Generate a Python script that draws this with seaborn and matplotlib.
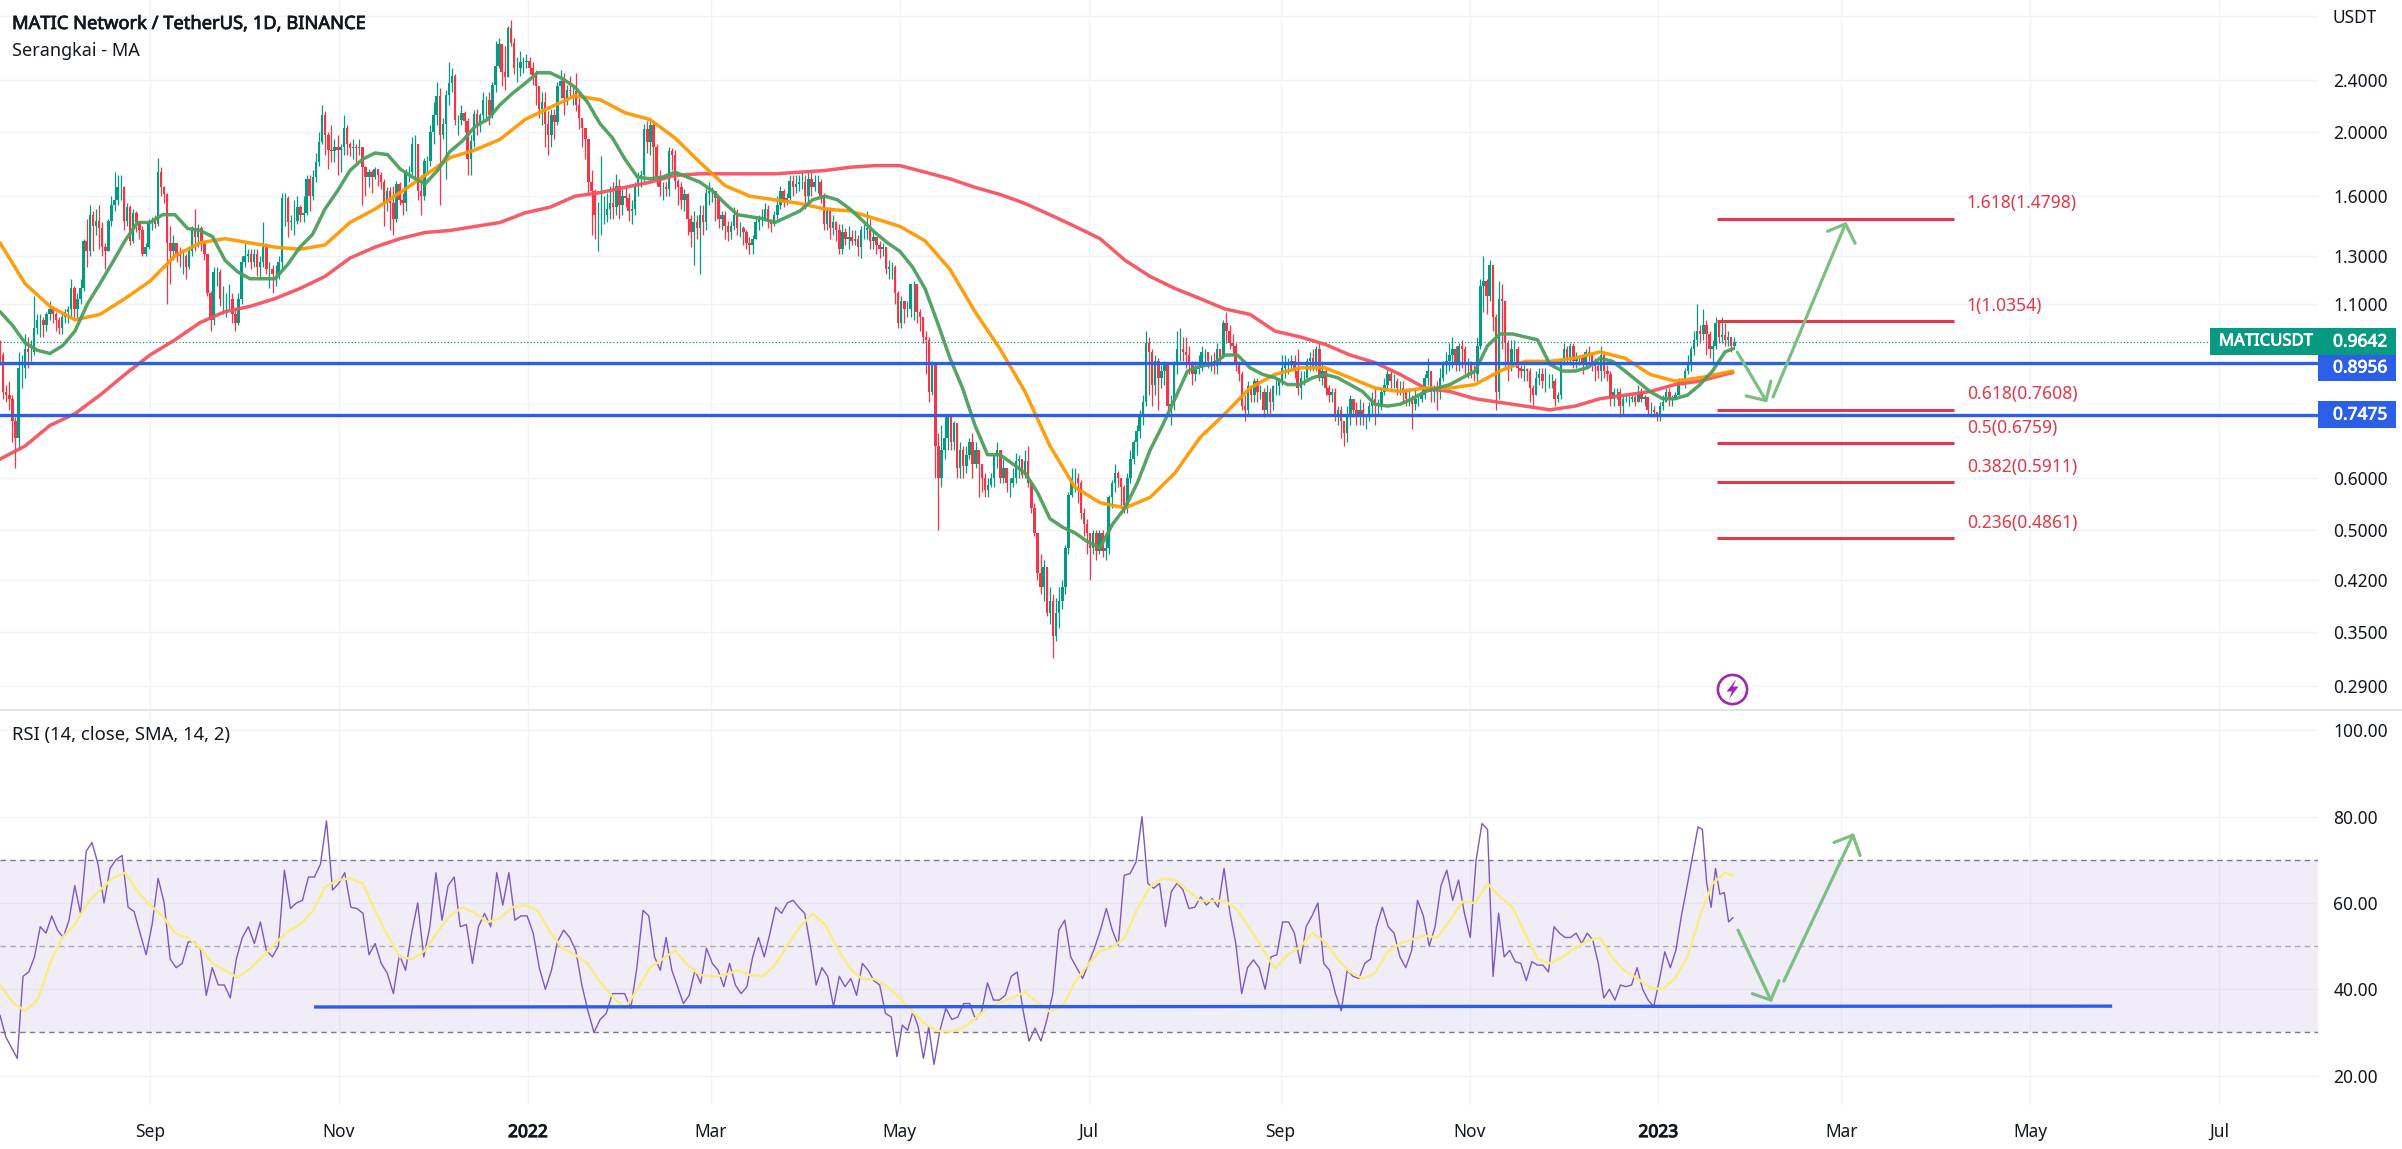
import pandas as pd
import numpy as np
import seaborn as sns
import matplotlib.pyplot as plt
import matplotlib.patheffects as pe
from matplotlib.patches import Rectangle, Polygon
from matplotlib.ticker import NullLocator

W, H = 2402, 1149
AXIS_X = 2318
PANEL_Y = 709.5
BOTTOM_Y = 1105

# daily candles, oldest first
closes = [
    .92, .81, .80, .79, .73, .69, .88, .88, .94,
    .93, .93, 1.01, 1.04, 1.04, 1.02, 1.06, 1.08, 1.06, 1.04,
    1.01, 1.05, 1.07, 1.08, 1.16, 1.08, 1.12, 1.16, 1.37, 1.32,
    1.5, 1.44, 1.47, 1.43, 1.34, 1.32, 1.47, 1.55, 1.58, 1.65,
    1.65, 1.47, 1.54, 1.37, 1.51, 1.46, 1.42, 1.31, 1.34, 1.46,
    1.47, 1.45, 1.74, 1.65, 1.61, 1.36, 1.32, 1.36, 1.31, 1.30,
    1.30, 1.25, 1.32, 1.43, 1.39, 1.43, 1.37, 1.31, 1.14, 1.04,
    1.23, 1.23, 1.12, 1.12, 1.12, 1.12, 1.06, 1.03, 1.12, 1.27,
    1.3, 1.31, 1.27, 1.31, 1.25, 1.27, 1.34, 1.24, 1.24, 1.22,
    1.22, 1.27, 1.59, 1.59, 1.46, 1.47, 1.47, 1.54, 1.5, 1.51,
    1.7, 1.6, 1.71, 1.8, 1.93, 2.12, 1.98, 1.88, 1.87, 1.9,
    1.88, 1.9, 2.03, 1.92, 1.89, 1.9, 1.89, 1.9, 1.77, 1.71,
    1.74, 1.71, 1.76, 1.72, 1.68, 1.56, 1.63, 1.56, 1.48, 1.67,
    1.58, 1.56, 1.74, 1.74, 1.92, 1.92, 1.63, 1.6, 1.81, 1.81,
    2.0, 2.12, 2.27, 1.98, 2.06, 2.28, 2.37, 2.43, 2.09, 2.09,
    2.14, 2.08, 1.82, 1.94, 2.13, 2.05, 2.12, 2.24, 2.24, 2.12,
    2.36, 2.52, 2.72, 2.47, 2.42, 2.88, 2.73, 2.5, 2.5, 2.55,
    2.55, 2.56, 2.5, 2.44, 2.35, 2.17, 2.22, 2.06, 1.98, 2.12,
    2.07, 2.35, 2.39, 2.25, 2.32, 2.31, 2.31, 2.2, 2.1, 2.03,
    1.95, 1.68, 1.63, 1.5, 1.5, 1.5, 1.5, 1.53, 1.56, 1.54, 1.66,
    1.55, 1.6, 1.59, 1.52, 1.53, 1.66, 1.7, 1.72, 2.02, 1.93,
    2.05, 1.9, 1.71, 1.65, 1.65, 1.64, 1.87, 1.85, 1.69, 1.65,
    1.58, 1.61, 1.48, 1.41, 1.46, 1.43, 1.5,
    1.46, 1.62, 1.63, 1.63, 1.59, 1.48, 1.5, 1.44, 1.41, 1.44,
    1.5, 1.43, 1.43, 1.41, 1.36, 1.35, 1.38, 1.46, 1.48, 1.48,
    1.53, 1.46, 1.45, 1.5, 1.55, 1.63, 1.57, 1.59, 1.69, 1.65, 1.67,
    1.68, 1.68, 1.6, 1.7, 1.65, 1.68, 1.68, 1.6, 1.45, 1.52,
    1.43, 1.46, 1.42, 1.33, 1.41, 1.38, 1.39, 1.37, 1.38, 1.34,
    1.42, 1.42, 1.43, 1.37, 1.39, 1.35, 1.33, 1.34, 1.24, 1.25,
    1.25, 1.14, 1.03, 1.11, 1.08, 1.08, 1.18, 1.18, 1.07, 1.05,
    .98, .97, .81, .89, .67, .6, .66, .69, .745, .68,
    .725, .62, .66, .625, .65, .68, .63, .66, .63, .6,
    .575, .585, .6, .65, .66, .6, .62, .59, .59, .6,
    .635, .64, .605, .635, .59, .54, .495, .43, .41, .44,
    .375, .39, .345, .375, .39, .41, .47, .565, .6, .6,
    .59, .53, .51, .495, .47, .495, .465, .495, .465, .47,
    .56, .59, .61, .60, .58, .545, .6, .64, .68, .705,
    .745, .78, .96, .93, .83, .9, .85, .87, .89, .77,
    .775, .89, .94, .94, .93, .92, .89, .86, .875, .88,
    .93, .93, .9, .9, .885, .94, .915, 1.03, 1.0, .96,
    .95, .89, .86, .77, .76, .825, .8, .84, .81, .81,
    .76, .81, .78, .825, .825, .84, .88, .89, .89, .9,
    .87, .82, .85, .85, .9, .91, .88, .94, .85, .87,
    .82, .8, .81, .75, .76, .73, .7, .74, .79, .76,
    .74, .76, .74, .74, .77, .79, .77, .77, .81, .83,
    .86, .84, .84, .82, .82, .81, .79, .79, .775, .79,
    .79, .8, .85, .87, .81, .82, .81, .85, .896, .9,
    .92, .94, .89, .95, .94, .89, .89, .87, .86, .95,
    1.17, 1.19, 1.13, 1.26, 1.05, .81, 1.12, 1.11, .96, .89,
    .94, .94, .88, .87, .875, .87, .82, .8, .85, .86,
    .84, .84, .84, .84, .79, .8, .9, .94, .91, .95,
    .9, .91, .91, .89, .93, .92, .89, .885, .87, .92,
    .87, .86, .79, .81, .81, .77, .79, .79, .79, .795,
    .78, .81, .79, .795, .76, .76, .755, .745, .77, .78,
    .81, .79, .79, .8, .84, .84, .87, .89, .94, .97,
    1.0, .99, 1.02, .99, .94, .95, 1.03, .98, .985, .97,
    .98, .95, .9642,
]
highs = [
    .97, .93, .83, .84, .80, .74, .93, .92, .99,
    .98, .97, 1.13, 1.06, 1.06, 1.05, 1.07, 1.11, 1.09, 1.07,
    1.05, 1.07, 1.08, 1.09, 1.2, 1.17, 1.14, 1.2, 1.38, 1.48,
    1.55, 1.52, 1.53, 1.55, 1.46, 1.36, 1.48, 1.6, 1.74, 1.72,
    1.72, 1.66, 1.56, 1.55, 1.53, 1.52, 1.47, 1.44, 1.36, 1.48,
    1.49, 1.5, 1.83, 1.77, 1.66, 1.62, 1.44, 1.4, 1.35, 1.34,
    1.33, 1.31, 1.34, 1.44, 1.53, 1.45, 1.44, 1.34, 1.31, 1.15,
    1.25, 1.25, 1.24, 1.17, 1.14, 1.18, 1.14, 1.08, 1.14, 1.3,
    1.36, 1.33, 1.33, 1.33, 1.33, 1.3, 1.46, 1.36, 1.27, 1.26,
    1.26, 1.3, 1.62, 1.62, 1.6, 1.5, 1.58, 1.6, 1.55, 1.6,
    1.72, 1.72, 1.75, 1.86, 2.0, 2.2, 2.15, 2.0, 2.05, 1.95,
    1.98, 1.92, 2.12, 2.05, 1.93, 1.95, 1.92, 1.95, 1.9, 1.78,
    1.76, 1.75, 1.77, 1.76, 1.74, 1.7, 1.65, 1.65, 1.66, 1.69,
    1.68, 1.62, 1.76, 1.78, 1.97, 1.98, 1.92, 1.72, 1.83, 1.84,
    2.05, 2.22, 2.38, 2.33, 2.1, 2.32, 2.55, 2.5, 2.45, 2.12,
    2.2, 2.15, 2.1, 1.98, 2.16, 2.17, 2.14, 2.3, 2.27, 2.3,
    2.38, 2.75, 2.78, 2.72, 2.7, 2.9, 2.96, 2.78, 2.6, 2.65,
    2.6, 2.63, 2.6, 2.55, 2.48, 2.35, 2.3, 2.3, 2.15, 2.17,
    2.17, 2.38, 2.48, 2.46, 2.36, 2.43, 2.35, 2.46, 2.25, 2.1,
    2.03, 1.95, 1.75, 1.64, 1.57, 1.84, 1.6, 1.62, 1.66, 1.68, 1.73,
    1.7, 1.64, 1.66, 1.62, 1.58, 1.68, 1.74, 1.75, 2.06, 2.08,
    2.08, 2.07, 1.92, 1.75, 1.68, 1.68, 1.9, 1.89, 1.88, 1.7,
    1.68, 1.64, 1.62, 1.5, 1.52, 1.5, 1.55,
    1.55, 1.65, 1.68, 1.65, 1.63, 1.6, 1.52, 1.52, 1.47, 1.47,
    1.54, 1.53, 1.46, 1.44, 1.42, 1.39, 1.4, 1.49, 1.5, 1.53,
    1.56, 1.55, 1.48, 1.52, 1.6, 1.66, 1.64, 1.62, 1.72, 1.72, 1.72,
    1.72, 1.74, 1.72, 1.74, 1.74, 1.72, 1.72, 1.7, 1.62, 1.54,
    1.54, 1.5, 1.47, 1.45, 1.45, 1.43, 1.44, 1.42, 1.42, 1.4,
    1.44, 1.45, 1.52, 1.48, 1.42, 1.39, 1.37, 1.36, 1.34, 1.28,
    1.27, 1.26, 1.15, 1.13, 1.11, 1.11, 1.18, 1.19, 1.18, 1.08,
    1.05, 1.0, .98, .9, .89, .7, .72, .74, .75, .75,
    .73, .72, .68, .67, .67, .69, .7, .68, .66, .63,
    .61, .6, .61, .65, .68, .66, .64, .62, .6, .62,
    .655, .65, .64, .66, .67, .59, .55, .49, .46, .45,
    .44, .41, .4, .395, .41, .42, .475, .57, .62, .62,
    .61, .595, .54, .52, .495, .5, .5, .5, .5, .49,
    .565, .595, .63, .615, .6, .585, .61, .66, .685, .72,
    .76, .8, 1.0, .98, .94, .92, .91, .89, .9, .89,
    .8, .9, 1.0, 1.01, .98, .98, .95, .9, .9, .92,
    .95, .94, .93, .92, .93, .96, .94, 1.04, 1.07, 1.02,
    .99, .96, .9, .87, .8, .84, .83, .85, .85, .83,
    .82, .83, .82, .83, .85, .85, .92, .92, .91, .92,
    .92, .94, .87, .87, .91, .93, .94, .95, .96, .9,
    .88, .83, .82, .82, .77, .77, .73, .77, .8, .79,
    .78, .79, .78, .75, .78, .81, .82, .79, .82, .85,
    .88, .87, .86, .85, .84, .84, .82, .82, .8, .82,
    .8, .83, .86, .91, .87, .83, .84, .88, .9, .93,
    .96, .98, .95, .96, .97, .95, .91, .9, .89, .98,
    1.2, 1.3, 1.2, 1.28, 1.26, 1.06, 1.19, 1.18, 1.09, .97,
    .97, .97, .95, .89, .89, .88, .88, .83, .87, .88,
    .88, .88, .86, .86, .85, .81, .91, .96, .95, .96,
    .96, .93, .92, .92, .94, .95, .93, .91, .9, .95,
    .93, .89, .87, .82, .82, .82, .8, .8, .8, .8,
    .8, .83, .82, .8, .79, .78, .77, .755, .78, .8,
    .82, .82, .8, .81, .85, .85, .88, .92, .95, 1.0,
    1.1, 1.02, 1.08, 1.04, 1.0, .97, 1.05, 1.04, 1.05, 1.03,
    1.0, .98, .98,
]
lows = [
    .89, .79, .78, .76, .68, .62, .66, .82, .85,
    .88, .9, .92, .99, .98, .98, 1.0, 1.04, 1.03, 1.0,
    .99, .99, 1.03, 1.03, 1.05, 1.05, 1.04, 1.1, 1.15, 1.25,
    1.3, 1.32, 1.4, 1.33, 1.3, 1.24, 1.32, 1.44, 1.52, 1.55,
    1.58, 1.42, 1.44, 1.35, 1.36, 1.41, 1.38, 1.3, 1.3, 1.33,
    1.42, 1.43, 1.44, 1.6, 1.56, 1.1, 1.18, 1.28, 1.27, 1.25,
    1.22, 1.2, 1.24, 1.3, 1.32, 1.34, 1.32, 1.28, 1.13, 1.0,
    1.02, 1.17, 1.09, 1.06, 1.05, 1.08, 1.03, 1.0, 1.02, 1.1,
    1.25, 1.27, 1.24, 1.25, 1.21, 1.2, 1.25, 1.22, 1.16, 1.14,
    1.17, 1.2, 1.24, 1.44, 1.39, 1.42, 1.4, 1.45, 1.46, 1.46,
    1.5, 1.52, 1.58, 1.68, 1.78, 1.92, 1.85, 1.76, 1.8, 1.8,
    1.72, 1.74, 1.85, 1.85, 1.84, 1.82, 1.8, 1.85, 1.55, 1.6,
    1.65, 1.62, 1.7, 1.66, 1.64, 1.44, 1.52, 1.42, 1.4, 1.46,
    1.55, 1.5, 1.52, 1.68, 1.72, 1.7, 1.58, 1.5, 1.58, 1.73,
    1.78, 1.92, 2.05, 1.55, 1.95, 1.7, 2.2, 2.3, 2.05, 1.98,
    2.05, 2.0, 1.72, 1.72, 1.9, 1.98, 2.0, 2.08, 2.1, 2.05,
    2.1, 2.3, 2.5, 2.35, 2.32, 2.42, 2.7, 2.45, 2.38, 2.43,
    2.46, 2.5, 2.45, 2.36, 2.2, 2.1, 2.05, 1.9, 1.85, 1.9,
    1.95, 2.05, 2.25, 2.12, 2.2, 2.25, 2.2, 2.15, 2.02, 1.9,
    1.82, 1.62, 1.4, 1.38, 1.32, 1.4, 1.45, 1.46, 1.48, 1.48, 1.5,
    1.48, 1.5, 1.54, 1.47, 1.45, 1.5, 1.6, 1.65, 1.68, 1.86,
    1.85, 1.7, 1.66, 1.6, 1.58, 1.6, 1.6, 1.75, 1.64, 1.55,
    1.53, 1.52, 1.4, 1.34, 1.26, 1.38, 1.22,
    1.4, 1.42, 1.55, 1.57, 1.47, 1.43, 1.42, 1.38, 1.37, 1.38,
    1.42, 1.4, 1.39, 1.35, 1.33, 1.31, 1.31, 1.38, 1.42, 1.44,
    1.47, 1.43, 1.41, 1.44, 1.48, 1.53, 1.54, 1.55, 1.58, 1.6, 1.62,
    1.63, 1.64, 1.53, 1.57, 1.6, 1.63, 1.62, 1.56, 1.42, 1.42,
    1.38, 1.4, 1.37, 1.31, 1.31, 1.35, 1.33, 1.35, 1.35, 1.3,
    1.29, 1.38, 1.38, 1.33, 1.33, 1.31, 1.29, 1.3, 1.22, 1.2,
    1.2, 1.1, 1.01, 1.01, 1.03, 1.05, 1.05, 1.04, 1.03, 1.0,
    .96, .86, .78, .8, .6, .5, .58, .64, .66, .66,
    .66, .6, .6, .6, .61, .64, .6, .62, .56, .57,
    .56, .56, .58, .58, .62, .59, .59, .57, .56, .58,
    .59, .6, .6, .6, .58, .53, .49, .42, .4, .39,
    .37, .36, .32, .34, .355, .38, .4, .46, .56, .57,
    .55, .52, .49, .46, .42, .46, .45, .46, .455, .45,
    .46, .54, .57, .58, .54, .53, .53, .59, .63, .65,
    .69, .72, .77, .8, .77, .8, .76, .82, .83, .76,
    .72, .76, .86, .9, .9, .88, .86, .83, .84, .86,
    .87, .89, .88, .87, .86, .86, .89, .91, .96, .94,
    .92, .87, .84, .76, .73, .75, .78, .78, .78, .79,
    .74, .75, .75, .76, .8, .8, .83, .85, .86, .87,
    .85, .8, .79, .83, .84, .87, .87, .87, .84, .83,
    .8, .78, .78, .73, .72, .69, .67, .68, .72, .74,
    .72, .72, .72, .71, .73, .75, .72, .75, .76, .8,
    .82, .82, .82, .8, .8, .78, .77, .77, .71, .76,
    .77, .78, .79, .83, .78, .78, .76, .79, .84, .86,
    .87, .88, .87, .87, .88, .86, .85, .85, .84, .84,
    .94, 1.07, 1.06, 1.11, 1.0, .76, .79, .94, .88, .84,
    .87, .9, .85, .85, .84, .84, .78, .77, .8, .83,
    .82, .81, .82, .82, .77, .78, .79, .89, .89, .89,
    .88, .88, .89, .86, .88, .9, .87, .84, .85, .84,
    .85, .84, .77, .77, .79, .74, .75, .78, .77, .78,
    .77, .78, .78, .77, .75, .74, .74, .73, .73, .76,
    .78, .77, .77, .79, .8, .83, .82, .86, .87, .92,
    .95, .96, .97, .92, .91, .89, .94, .96, .96, .95,
    .95, .93, .94,
]

# fast moving average and rsi average, one reading about every four days
ma_fast = [1.07, 1.02, .96, .935, .925, .95, 1.0, 1.1, 1.18, 1.27, 1.37, 1.46, 1.46, 1.5, 1.5, 1.43, 1.42, 1.39, 1.28, 1.23,
           1.2, 1.2, 1.2, 1.26, 1.34, 1.4, 1.53, 1.63, 1.75, 1.82, 1.86, 1.85, 1.76, 1.71, 1.67, 1.75, 1.87, 1.94, 2.04, 2.09,
           2.2, 2.29, 2.37, 2.46, 2.46, 2.41, 2.34, 2.22, 2.06, 1.96, 1.82, 1.71, 1.7, 1.71, 1.74, 1.71, 1.68, 1.63, 1.56, 1.5,
           1.49, 1.48, 1.46, 1.49, 1.52, 1.58, 1.6, 1.58, 1.53, 1.47, 1.41, 1.36, 1.32, 1.25, 1.16, 1.03, .91, .82, .72, .65,
           .65, .63, .61, .57, .52, .505, .495, .48, .47, .51, .54, .59, .66, .72, .79, .87, .885, .89, .92, .92,
           .88, .86, .85, .83, .83, .85, .86, .85, .83, .81, .775, .77, .775, .79, .81, .82, .83, .85, .87, .95,
           .99, .99, .98, .97, .89, .87, .87, .88, .91, .9, .87, .84, .81, .79, .79, .8, .83, .87, .93, .94]
rsi_avg = [41, 37, 35, 37.5, 46, 52, 55, 60, 63, 65.7, 67, 62.6, 59.5, 57, 53, 52, 49.7, 46, 44.4, 42.7,
           44.8, 47.5, 50.6, 53.3, 55, 58, 63.7, 65.3, 65.7, 64.5, 58.3, 52.5, 47.5, 47, 49, 53.3, 57, 59, 57.6, 55.6,
           56.4, 59, 59.5, 58.3, 53.3, 49.5, 48, 46, 41.7, 38.3, 35.6, 40, 45, 47, 49, 45.6, 43.3, 43, 43.3, 44.4,
           43.3, 43, 45.6, 50.2, 54.5, 57.5, 55, 49.5, 44.8, 42.3, 42.4, 40.6, 37.9, 34.8, 32, 30.4, 30.2, 31, 33.2, 35.6,
           37, 38, 39.4, 36.9, 34.8, 36, 41.7, 45.6, 48.9, 49.7, 52, 58.7, 63.7, 65.7, 65.3, 63, 60.5, 60.5, 60.5, 58.3,
           54, 49.5, 44.8, 48, 49.8, 53, 51, 47, 44, 42.5, 43.7, 48.7, 50.6, 51.6, 52.4, 52, 56, 60.3, 60, 64.5,
           61.4, 59, 53, 47, 46, 47.5, 49.5, 51.2, 52, 47.3, 44.2, 42.5, 40.4, 40, 42.5, 47.5, 57, 64.5, 67, 66.4]

# slower moving averages, one reading about every eight days
ma_mid = [1.36, 1.18, 1.09, 1.04, 1.06, 1.12, 1.19, 1.3, 1.36, 1.38, 1.36, 1.34, 1.33, 1.35, 1.46,
          1.53, 1.62, 1.72, 1.83, 1.88, 1.95, 2.09, 2.18, 2.27, 2.24, 2.14, 2.09, 1.96, 1.8,
          1.66, 1.6, 1.58, 1.56, 1.53, 1.52, 1.48, 1.44, 1.37, 1.24, 1.07, .94, .81, .67, .58, .55,
          .54, .56, .61, .69, .75, .82, .86, .88, .88, .85, .82, .81, .82,
          .82, .83, .87, .9, .9, .91, .93, .91, .86, .84, .85, .865, .87]
ma_slow = [.64, .67, .72, .75, .8, .86, .92, .97, 1.03, 1.07, 1.09, 1.12, 1.16, 1.21, 1.29,
           1.34, 1.38, 1.41, 1.42, 1.44, 1.46, 1.51, 1.54, 1.6, 1.62, 1.65, 1.68, 1.72, 1.73,
           1.73, 1.73, 1.73, 1.74, 1.75, 1.77, 1.78, 1.78, 1.74, 1.7, 1.65, 1.61, 1.56, 1.5, 1.44, 1.38,
           1.28, 1.21, 1.16, 1.12, 1.08, 1.06, 1.0, .98, .955, .92, .896, .86, .82,
           .81, .79, .78, .77, .76, .77, .79, .8, .81, .83, .84, .86, .865]

# rsi, one reading about every two days
rsi = [34, 29, 26.5, 24, 43, 44, 47.5, 54.5, 53, 57,
       53.7, 52, 56, 64, 57.6, 72, 74, 69, 60, 68,
       70, 71, 59, 58, 53, 48, 55, 65.7, 60, 47,
       45, 46, 51, 51, 49.5, 38.6, 45, 41, 41, 38,
       47, 52, 54.5, 50.6, 55.6, 49, 47.5, 50, 67.6, 58.7,
       60, 60.6, 66, 66, 69, 79, 63, 64.5, 67, 59,
       58.7, 57.6, 48, 50.6, 46, 43.7, 39, 48, 44.4, 53,
       60, 47.5, 54.5, 67, 56, 64, 66, 54.5, 55, 46,
       54.5, 57.6, 54.5, 67, 59.5, 67, 56, 57, 57, 53,
       45, 40, 44.4, 51, 53.7, 52, 49, 41, 35, 30,
       33, 34.4, 39, 39, 39, 35.6, 45, 58.3, 57, 47.5,
       44.4, 52, 44.4, 40.6, 36.7, 38.6, 44.4, 41.4, 49.5, 46,
       44.4, 40.6, 46, 41, 39, 40.6, 47.5, 52, 47.5, 53,
       59, 57.6, 60, 60.6, 59, 57.6, 50, 41, 45, 43,
       36, 43, 40.6, 42.5, 38.6, 46, 44.4, 42, 41, 34.4,
       33.6, 24.4, 31.7, 30.5, 34.8, 31.3, 24, 31.3, 22.6, 30.5,
       35.6, 33, 33.6, 36.7, 36.7, 33, 34.8, 41.5, 37.5, 37.5,
       38.6, 43, 44, 35, 28, 31, 28, 33, 39, 53.7,
       56, 47.5, 45, 42.5, 46, 49.5, 53.7, 58.7, 53.7, 50.2,
       66.4, 66.8, 69.5, 80, 64.5, 63.4, 64.5, 54.5, 62.6, 64.6,
       63, 58.7, 59, 61.4, 59.5, 61, 59, 68, 57.6, 50.6,
       39, 45, 46.8, 45, 40, 47.5, 48, 55.6, 55.6, 53,
       46, 54.5, 57, 60, 46, 44.4, 39, 35, 44.4, 43,
       42.5, 46, 47, 54.5, 59, 54.5, 53, 47.5, 45, 49,
       60.6, 57, 50, 54.5, 64, 67.6, 60.6, 65.3, 57.6, 52,
       70, 78.4, 77, 43, 57.6, 47.5, 49, 46.4, 46, 42,
       46.4, 45.6, 45.6, 44, 54.5, 53, 52, 52, 53, 50.6,
       53, 51.4, 46, 38, 40, 37.5, 41, 40.6, 41, 45,
       40, 37.5, 36, 42, 48.7, 45, 49, 57, 63.7, 70.7,
       77.6, 77, 64.5, 59, 68, 62, 62.4, 55.6, 56.6]
# rsi readings whose place on the time axis is known exactly, with that place in pixels
rsi_landmarks = [(74, 92), (79, 326.5), (30, 594), (58.3, 643), (24.4, 897), (22.6, 934),
                 (80, 1142), (78.4, 1482), (77.6, 1698)]

hlines_price = [0.8956, 0.7475]
hline_labels = ['0.8956', '0.7475']
last_price = 0.9642

fib_levels = ['1.618', '1', '0.618', '0.5', '0.382', '0.236']
fib_prices = [1.4798, 1.0354, 0.7608, 0.6759, 0.5911, 0.4861]

price_ticks = [2.4, 2.0, 1.6, 1.3, 1.1, 0.6, 0.5, 0.42, 0.35, 0.29]
rsi_ticks = [100, 80, 60, 40, 20]
month_dates = ['2021-09-01', '2021-11-01', '2022-01-01', '2022-03-01', '2022-05-01', '2022-07-01',
               '2022-09-01', '2022-11-01', '2023-01-01', '2023-03-01', '2023-05-01', '2023-07-01']
month_labels = ['Sep', 'Nov', '2022', 'Mar', 'May', 'Jul', 'Sep', 'Nov', '2023', 'Mar', 'May', 'Jul']

TEAL = '#089981'
RED = '#F23645'
BLUE = '#2B5FE8'
INK = '#131722'
GRID = '#F0F3FA'
ARROW = '#7CBF82'

sns.set_theme(style='white')
plt.rcParams['font.family'] = ['Noto Sans', 'DejaVu Sans']

left = pd.Timestamp('2021-07-14 12:00')
px_day = 3.097


def day(n):
    return left + pd.Timedelta(days=float(n))


def heavy(color, width=0.55):
    # the installed face has no usable medium weight, so thicken it with a thin outline
    return [pe.withStroke(linewidth=width, foreground=color)]


def fig_box(x0, y0, x1, y1, color):
    fig.add_artist(Rectangle((x0 / W, 1 - y1 / H), (x1 - x0) / W, (y1 - y0) / H,
                             transform=fig.transFigure, facecolor=color, edgecolor='none', zorder=6))


def fig_label(x, y, s, **kw):
    kw.setdefault('color', INK)
    kw.setdefault('fontsize', 12.5)
    fig.text(x / W, 1 - y / H, s, va='center', zorder=7, **kw)


fig = plt.figure(figsize=(W / 100, H / 100), dpi=100, facecolor='white')
ax1 = fig.add_axes([0, 1 - PANEL_Y / H, AXIS_X / W, PANEL_Y / H])
ax2 = fig.add_axes([0, 1 - BOTTOM_Y / H, AXIS_X / W, (BOTTOM_Y - PANEL_Y) / H])

n = len(closes)
dates = pd.date_range(end='2023-01-25 12:00', periods=n)
opens = np.array([0.95] + closes[:-1])
c = np.array(closes)
hi = np.maximum(np.array(highs), np.maximum(opens, c))
lo = np.minimum(np.array(lows), np.minimum(opens, c))
colors = np.where(c >= opens, TEAL, RED)

ax1.set_yscale('log')
ax1.vlines(dates, lo, hi, colors=colors, linewidth=0.9, zorder=2)
ax1.bar(dates, np.abs(c - opens), bottom=np.minimum(c, opens), width=0.8,
        color=colors, linewidth=0, zorder=3)

coarse_dates = [day(d) for d in np.append(np.arange(70) * 25 / px_day, 559.5)]
fine_dates = [day(d) for d in np.append(np.arange(139) * 12.5 / px_day, 559.5)]
for x, values, col in [(coarse_dates, ma_slow, '#F7525F'), (coarse_dates, ma_mid, '#FF9800'),
                       (fine_dates, ma_fast, '#4C9F5C')]:
    sns.lineplot(x=x, y=values, ax=ax1, color=col, linewidth=2.5, alpha=0.95,
                 errorbar=None, legend=False, zorder=4, solid_joinstyle='round')

ax1.plot([left, day(2210 / px_day)], [last_price, last_price], ls=':', lw=0.9, color=TEAL, zorder=3)
for p in hlines_price:
    ax1.axhline(p, color=BLUE, lw=2.4, zorder=5)

for lvl, p in zip(fib_levels, fib_prices):
    ax1.plot([day(554.4), day(631)], [p, p], color='#E5374A', lw=2.2, zorder=5, solid_capstyle='butt')
    ax1.annotate(f'{lvl}({p:.4f})', xy=(day(631), p), xytext=(9, 11), textcoords='offset points',
                 color='#E5374A', fontsize=12.6, va='center')

# forecast arrows on the price panel
arrows_price = [
    ([561, 570.2], [.929, .785], [563.8, 570.2, 571.8], [.798, .785, .84]),
    ([572.5, 595.9], [.795, 1.453], [590.1, 595.9, 599], [1.416, 1.453, 1.358]),
]
for sx, sy, hx, hy in arrows_price:
    ax1.plot([day(d) for d in sx], sy, color=ARROW, lw=2.3, zorder=6, solid_capstyle='round')
    ax1.plot([day(d) for d in hx], hy, color=ARROW, lw=2.3, zorder=6, solid_capstyle='round')

ax1.plot([day(559.4)], [0.2876], marker='o', ms=21, mfc='white', mec='#9C27B0', mew=1.9, zorder=6)

ax1.set_ylim(0.2675, 3.17)
ax1.set_yticks(price_ticks + [3.0])
ax1.set_yticklabels([f'{t:.4f}' for t in price_ticks] + [''])
ax1.yaxis.set_minor_locator(NullLocator())

# rsi panel
ax2.axhspan(30, 70, color='#7E57C2', alpha=0.1, lw=0, zorder=1)
ax2.axhline(70, color='#787B86', lw=1, dashes=(4, 3), zorder=2)
ax2.axhline(30, color='#787B86', lw=1, dashes=(4, 3), zorder=2)
ax2.axhline(50, color='#787B86', lw=1, dashes=(4, 3), alpha=0.6, zorder=2)

mark_idx = [0] + [rsi.index(v) for v, _ in rsi_landmarks] + [len(rsi) - 1]
mark_px = [0] + [p for _, p in rsi_landmarks] + [1733]
rsi_px = np.interp(np.arange(len(rsi)), mark_idx, mark_px)
rsi_dates = [day(p / px_day) for p in rsi_px]
sns.lineplot(x=rsi_dates, y=rsi, ax=ax2, color='#7E57C2', linewidth=1.0, errorbar=None, legend=False, zorder=3)
sns.lineplot(x=fine_dates, y=rsi_avg, ax=ax2, color='#F7EE83', linewidth=1.8, errorbar=None, legend=False, zorder=4)
ax2.plot([day(101.4), day(682)], [35.9, 36.1], color=BLUE, lw=2.4, zorder=5, solid_capstyle='butt')

arrows_rsi = [
    ([561.2, 571.8], [53.7, 37.5], [565.8, 571.8, 574.4], [39, 37.5, 42]),
    ([576, 598.3], [41.9, 75.7], [592.2, 598.3, 600.6], [74, 75.7, 71]),
]
for sx, sy, hx, hy in arrows_rsi:
    ax2.plot([day(d) for d in sx], sy, color=ARROW, lw=2.3, zorder=6, solid_capstyle='round')
    ax2.plot([day(d) for d in hx], hy, color=ARROW, lw=2.3, zorder=6, solid_capstyle='round')

ax2.set_ylim(13.2, 104.8)
ax2.set_yticks(rsi_ticks)
ax2.set_yticklabels([f'{t:.2f}' for t in rsi_ticks])
ax2.yaxis.set_minor_locator(NullLocator())

ticks = pd.to_datetime(month_dates)
right = left + pd.Timedelta(days=AXIS_X / px_day)
for ax in (ax1, ax2):
    ax.set_xlim(left, right)
    ax.set_xticks(ticks)
    ax.grid(True, color=GRID, lw=1)
    ax.set_axisbelow(True)
    ax.yaxis.tick_right()
    ax.tick_params(axis='both', length=0, labelsize=12.5, labelcolor=INK)
    ax.tick_params(axis='y', pad=11)
    ax.set_xlabel('')
    ax.set_ylabel('')
    for s in ax.spines.values():
        s.set_visible(False)
ax1.tick_params(axis='x', labelbottom=False)
ax2.tick_params(axis='x', pad=13)
ax2.set_xticklabels(month_labels)
for lab in ax2.get_xticklabels():
    if lab.get_text().isdigit():
        lab.set_path_effects(heavy(INK, 0.8))

fig.add_artist(plt.Line2D([0, 1], [1 - PANEL_Y / H] * 2, color='#E0E3EB', lw=1.4, transform=fig.transFigure))

# bolt inside the purple event marker
bolt = [(1736.5, 679), (1726.5, 691.5), (1732, 691.5), (1729, 699), (1738.5, 686.5), (1733, 686.5)]
fig.add_artist(Polygon([(x / W, 1 - y / H) for x, y in bolt], closed=True, transform=fig.transFigure,
                       facecolor='#9C27B0', edgecolor='none', zorder=7))

# right-hand price tags
fig_box(2210, 328, AXIS_X, 355, TEAL)
fig_box(AXIS_X, 328, 2396, 355, TEAL)
fig_box(AXIS_X, 355, 2396, 381, BLUE)
fig_box(AXIS_X, 401, 2396, 428, BLUE)
fig_label(2219, 341.5, 'MATICUSDT', color='white', fontsize=12, path_effects=heavy('white'))
fig_label(2333, 341.5, f'{last_price:.4f}', color='white', path_effects=heavy('white'))
fig_label(2333, 367.5, hline_labels[0], color='white', path_effects=heavy('white'))
fig_label(2333, 414.5, hline_labels[1], color='white', path_effects=heavy('white'))

fig_label(2333, 18, 'USDT')
fig_label(12, 24, 'MATIC Network / TetherUS, 1D, BINANCE', fontsize=13.2, path_effects=heavy(INK))
fig_label(12, 51, 'Serangkai - MA', fontsize=13)
fig_label(12, 735, 'RSI (14, close, SMA, 14, 2)', fontsize=13.3)

fig.savefig('out.png', dpi=100, facecolor='white')
